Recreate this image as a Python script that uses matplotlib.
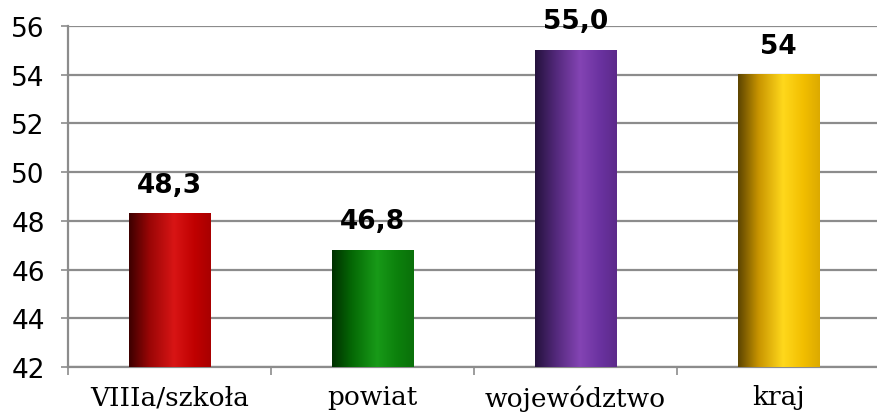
import numpy as np
import matplotlib
matplotlib.use("Agg")
import matplotlib.pyplot as plt
from matplotlib.colors import LinearSegmentedColormap

categories = ["VIIIa/szkoła", "powiat", "województwo", "kraj"]
values = [48.3, 46.8, 55.0, 54.0]
value_labels = ["48,3", "46,8", "55,0", "54"]
# left (shadow) -> highlight -> right edge
bar_shades = [
    ["#3c0000", "#9a0606", "#d81515", "#c00000", "#a80000"],
    ["#003000", "#056a05", "#189a18", "#0c800c", "#0a700a"],
    ["#24123c", "#52287a", "#8444b4", "#6a32a0", "#5c2a8a"],
    ["#5c4400", "#c89400", "#ffd81c", "#f2be00", "#dcaa00"],
]

YMIN, YMAX = 42, 56
BAR_W = 0.4

fig = plt.figure(figsize=(8.77, 4.14), dpi=100)
ax = fig.add_axes([0.078, 0.111, 0.925, 0.824])

grad = np.linspace(0, 1, 256).reshape(1, -1)
stops = [0.0, 0.25, 0.55, 0.8, 1.0]
for i, (v, shades) in enumerate(zip(values, bar_shades)):
    cmap = LinearSegmentedColormap.from_list(f"c{i}", list(zip(stops, shades)))
    x0, x1 = i - BAR_W / 2, i + BAR_W / 2
    ax.imshow(grad, cmap=cmap, aspect="auto", extent=[x0, x1, YMIN, v],
              zorder=3, interpolation="bicubic")
    ax.text(i, v + 0.65, value_labels[i], ha="center", va="bottom",
            fontsize=19, fontweight="bold", family="DejaVu Sans", zorder=4)

ax.set_xlim(-0.5, 3.5)
ax.set_ylim(YMIN, YMAX)

ax.set_yticks(np.arange(42, 57, 2))
ax.yaxis.grid(True, color="#8c8c8c", linewidth=1.6)
ax.set_axisbelow(True)
ax.tick_params(axis="y", labelsize=19, length=5, color="#8c8c8c", width=1.2, pad=12)

ax.set_xticks([-0.5, 0.5, 1.5, 2.5])
ax.set_xticklabels([])
ax.tick_params(axis="x", length=6, color="#8c8c8c", width=1.2)
ax.set_xticks(range(4), minor=True)
ax.set_xticklabels(categories, minor=True, fontsize=19, family="DejaVu Serif")
ax.tick_params(axis="x", which="minor", length=0, pad=12.5)

for s in ["top", "right"]:
    ax.spines[s].set_visible(False)
for s in ["left", "bottom"]:
    ax.spines[s].set_color("#8c8c8c")
    ax.spines[s].set_linewidth(1.6)

fig.savefig("out.png", dpi=100)
